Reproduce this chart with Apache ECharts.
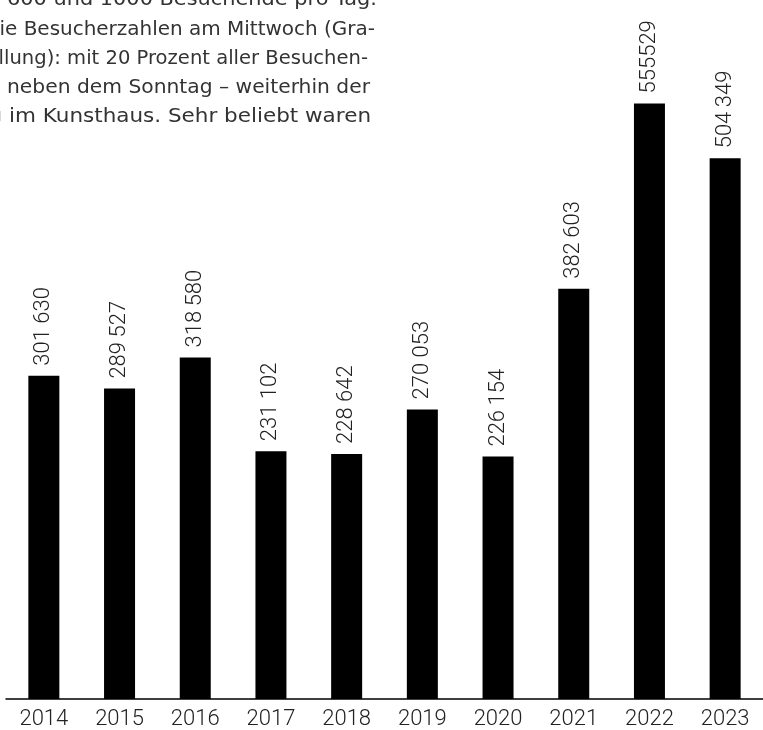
<!DOCTYPE html>
<html>
<head>
<meta charset="utf-8">
<script src="https://cdn.jsdelivr.net/npm/echarts@6/dist/echarts.min.js"></script>
<style>
html,body{margin:0;padding:0;background:#fff;}
#chart{width:763px;height:730px;}
</style>
</head>
<body>
<div id="chart"></div>
<script>
const years = ['2014','2015','2016','2017','2018','2019','2020','2021','2022','2023'];
const visitors = [301630, 289527, 318580, 231102, 228642, 270053, 226154, 382603, 555529, 504349];
const visitorLabels = ['301 630','289\u2009527','318\u2009580','231 102','228 642','270 053','226\u2009154','382\u2009603','555529','504\u2009349'];
const textLines = [
  'zwischen 600 und 1000 Besuchende pro Tag.',
  'Die Besucherzahlen am Mittwoch (Gra-',
  'tis-Ausstellung): mit 20 Prozent aller Besuchen-',
  'den ist - neben dem Sonntag – weiterhin der',
  'besucherstärkste Tag im Kunsthaus. Sehr beliebt waren'
];
// the part of each line that is fully visible in the cropped reference
const visibleParts = [
  '600 und 1000 Besuchende pro Tag.',
  'e Besucherzahlen am Mittwoch (Gra-',
  'lung): mit 20 Prozent aller Besuchen-',
  'neben dem Sonntag – weiterhin der',
  'im Kunsthaus. Sehr beliebt waren'
];

const FONT = 'Roboto';
const PFONT = 'DejaVu Sans';
const cv = document.createElement('canvas').getContext('2d');
cv.font = '20px "' + PFONT + '"';
const pSize = Math.round(20 * 370 / cv.measureText(visibleParts[1]).width * 10) / 10;
cv.font = pSize + 'px "' + PFONT + '"';

const lineLeft = [7, 5, 4, 7, 9];
const lineRight = [377, 375, 368, 370, 371];
const lineBase = [6, 35.7, 64.5, 93.3, 122.5];
const lineScale = visibleParts.map((s, i) => (lineRight[i] - lineLeft[i]) / cv.measureText(s).width);

const chart = echarts.init(document.getElementById('chart'), null, {renderer: 'canvas'});
const option = {
  animation: false,
  backgroundColor: '#fff',
  grid: {left: 6, right: -10, top: 0, bottom: 31, containLabel: false},
  xAxis: {
    type: 'category',
    data: years,
    axisLine: {show: true, lineStyle: {color: '#000', width: 1.5}},
    axisTick: {show: false},
    axisLabel: {color: '#222', fontFamily: FONT, fontWeight: 300, fontSize: 22, margin: 9}
  },
  yAxis: {
    type: 'value', min: 0, max: 652000,
    show: false, splitLine: {show: false}
  },
  series: [{
    type: 'bar',
    data: visitors,
    barWidth: 31,
    itemStyle: {color: '#000'},
    label: {
      show: true,
      position: 'top',
      distance: 10,
      rotate: 90,
      align: 'left',
      verticalAlign: 'middle',
      color: '#222',
      fontFamily: FONT,
      fontWeight: 300,
      fontSize: 22,
      formatter: p => visitorLabels[p.dataIndex]
    }
  }],
  graphic: textLines.map((t, i) => ({
    type: 'text',
    x: lineRight[i],
    y: lineBase[i] - 0.3 * pSize,
    scaleX: lineScale[i],
    style: {
      text: t,
      fill: '#333',
      fontFamily: PFONT,
      fontSize: pSize,
      align: 'right',
      verticalAlign: 'middle'
    }
  }))
};
chart.setOption(option);
</script>
</body>
</html>
